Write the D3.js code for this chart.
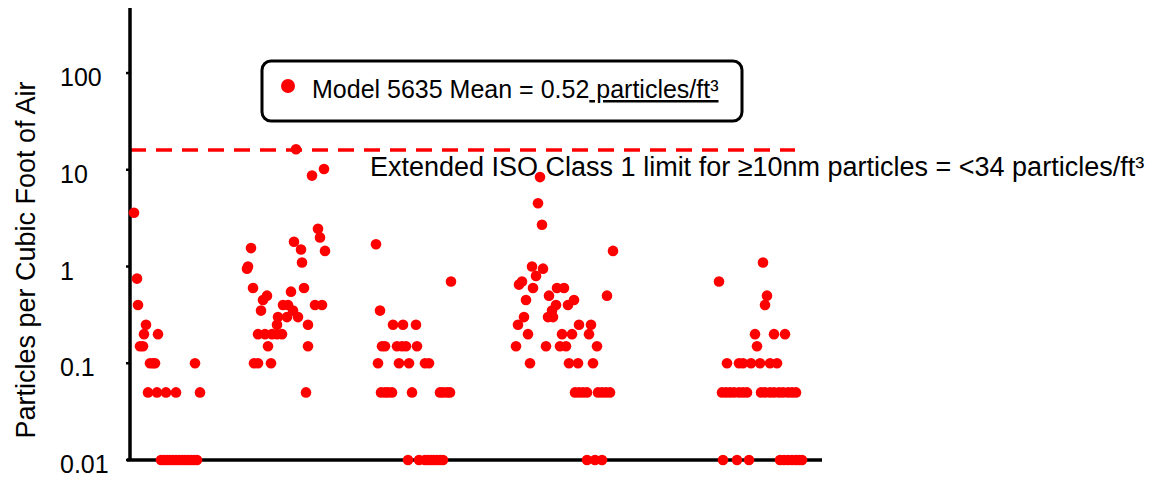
<!DOCTYPE html>
<html lang="en">
<head>
    <meta charset="utf-8">
    <title>Model 5635 particle counts</title>
    <script src="https://cdnjs.cloudflare.com/ajax/libs/d3/7.8.5/d3.min.js"></script>
    <style>
        body { margin: 0; background: #fff; }
        svg { display: block; font-family: "Liberation Sans", Arial, sans-serif; }
        .dot { fill: #ff0000; }
    </style>
</head>
<body>
    <svg width="1164" height="478"></svg>

    <script>
        // counts per ft3, one entry per sample: [sample, value]; 0 = nothing counted (drawn on the 0.01 floor)
        const run1 = [
            [4, 3.6], [7, 0.75], [8, 0.4], [16, 0.25], [14, 0.2], [28, 0.2], [10, 0.15], [13, 0.15],
            [20, 0.1], [23, 0.1], [25, 0.1], [65, 0.1],
            [18, 0.05], [27, 0.05], [36, 0.05], [46, 0.05], [70, 0.05],
            [31, 0], [34, 0], [37, 0], [40, 0], [43, 0], [46, 0], [49, 0], [52, 0], [55, 0], [58, 0], [61, 0], [64, 0], [67, 0]
        ];
        const run2 = [
            [166, 16.3], [182, 8.7], [194, 10.2], [188, 2.45], [190, 2.0], [164, 1.8], [171, 1.5], [195, 1.45],
            [121, 1.55], [172, 1.1], [118, 1.0], [117, 0.95], [123, 0.6], [174, 0.6], [161, 0.55], [137, 0.5],
            [133, 0.45], [131, 0.35], [153, 0.4], [158, 0.4], [185, 0.4], [192, 0.4], [163, 0.35], [168, 0.3],
            [148, 0.3], [157, 0.3], [147, 0.25], [178, 0.25],
            [128, 0.2], [135, 0.2], [142, 0.2], [147, 0.2], [152, 0.2], [138, 0.15], [178, 0.15],
            [124, 0.1], [128, 0.1], [141, 0.1], [176, 0.05]
        ];
        const run3 = [
            [246, 1.7], [321, 0.7], [250, 0.35], [263, 0.25], [273, 0.25], [286, 0.25],
            [252, 0.15], [255, 0.15], [267, 0.15], [272, 0.15], [276, 0.15], [287, 0.15],
            [248, 0.1], [269, 0.1], [279, 0.1], [295, 0.1], [299, 0.1],
            [251, 0.05], [255, 0.05], [258, 0.05], [262, 0.05], [282, 0.05], [310, 0.05], [313, 0.05], [317, 0.05], [320, 0.05],
            [278, 0], [289, 0], [295, 0], [298, 0], [301, 0], [304, 0], [307, 0], [310, 0], [313, 0]
        ];
        const run4 = [
            [410, 8.4], [408, 4.5], [412, 2.7], [483, 1.45], [402, 1.0], [413, 0.95], [406, 0.8], [392, 0.7],
            [389, 0.65], [403, 0.6], [427, 0.6], [434, 0.6], [477, 0.5], [419, 0.5], [396, 0.45], [444, 0.45],
            [438, 0.4], [426, 0.4], [422, 0.35], [418, 0.3], [423, 0.3], [394, 0.3], [388, 0.25], [449, 0.25],
            [461, 0.25], [398, 0.2], [432, 0.2], [442, 0.2], [459, 0.2],
            [386, 0.15], [416, 0.15], [430, 0.15], [436, 0.15], [467, 0.15],
            [400, 0.1], [439, 0.1], [448, 0.1], [463, 0.1],
            [445, 0.05], [449, 0.05], [453, 0.05], [457, 0.05], [468, 0.05], [472, 0.05], [476, 0.05], [480, 0.05],
            [457, 0], [465, 0], [472, 0]
        ];
        const run5 = [
            [633, 1.1], [589, 0.7], [637, 0.5], [635, 0.4], [625, 0.2], [644, 0.2], [655, 0.2], [627, 0.15],
            [597, 0.1], [609, 0.1], [613, 0.1], [621, 0.1], [630, 0.1], [640, 0.1], [647, 0.1],
            [592, 0.05], [596, 0.05], [600, 0.05], [604, 0.05], [609, 0.05], [613, 0.05], [617, 0.05],
            [631, 0.05], [635, 0.05], [640, 0.05], [644, 0.05], [649, 0.05], [653, 0.05], [658, 0.05], [662, 0.05], [666, 0.05],
            [593, 0], [607, 0], [619, 0], [650, 0], [654, 0], [658, 0], [662, 0], [666, 0], [669, 0], [672, 0]
        ];

        const yTicks = [0.01, 0.1, 1, 10, 100];
        const isoLimit = 16;
        const legendLabel = "Model 5635 Mean = 0.52";
        const legendUnit = " particles/ft³";
        const limitLabel = "Extended ISO Class 1 limit for ≥10nm particles = <34 particles/ft³";
        const yTitle = "Particles per Cubic Foot of Air";

        const svg = d3.select("svg");
        const floor = 0.01;

        const x = d3.scaleLinear().domain([0, 692]).range([130, 822]);
        const y = d3.scaleLog().domain([floor, 470]).range([460, 8]);

        // dashed limit line
        svg.append("line")
            .attr("x1", x(0)).attr("x2", x(665))
            .attr("y1", y(isoLimit)).attr("y2", y(isoLimit))
            .attr("stroke", "#ff0000")
            .attr("stroke-width", 3.5)
            .attr("stroke-dasharray", "16,10");

        svg.append("text")
            .attr("x", 370)
            .attr("y", y(isoLimit) + 26)
            .attr("font-size", 27)
            .attr("fill", "#000")
            .text(limitLabel);

        // axes
        svg.append("line")
            .attr("x1", x(0)).attr("x2", x(0))
            .attr("y1", y.range()[1]).attr("y2", y(floor))
            .attr("stroke", "#000").attr("stroke-width", 3.5);

        svg.append("line")
            .attr("x1", x(0) - 3).attr("x2", x(692))
            .attr("y1", y(floor)).attr("y2", y(floor))
            .attr("stroke", "#000").attr("stroke-width", 3.5);

        svg.append("g")
            .selectAll("line")
            .data(yTicks)
            .join("line")
            .attr("x1", x(0) - 4).attr("x2", x(0))
            .attr("y1", d => y(d)).attr("y2", d => y(d))
            .attr("stroke", "#000").attr("stroke-width", 2.5);

        svg.append("g")
            .selectAll("text")
            .data(yTicks)
            .join("text")
            .attr("x", 60)
            .attr("y", d => y(d))
            .attr("dy", "0.52em")
            .attr("font-size", 25)
            .text(d => d3.format("~g")(d));

        svg.append("text")
            .attr("transform", "translate(35,260) rotate(-90)")
            .attr("text-anchor", "middle")
            .attr("font-size", 27)
            .text(yTitle);

        // points
        const allRuns = [run1, run2, run3, run4, run5];
        svg.append("g")
            .selectAll("g")
            .data(allRuns)
            .join("g")
            .selectAll("circle")
            .data(d => d)
            .join("circle")
            .attr("class", "dot")
            .attr("cx", d => x(d[0]))
            .attr("cy", d => y(Math.max(d[1], floor)))
            .attr("r", 5.3);

        // legend
        const legend = svg.append("g");
        legend.append("rect")
            .attr("x", 262).attr("y", 61)
            .attr("width", 480).attr("height", 60)
            .attr("rx", 9)
            .attr("fill", "#fff")
            .attr("stroke", "#000")
            .attr("stroke-width", 3);
        legend.append("circle")
            .attr("class", "dot")
            .attr("cx", 288).attr("cy", 86)
            .attr("r", 7);
        const lt = legend.append("text")
            .attr("x", 312).attr("y", 98)
            .attr("font-size", 25)
            .attr("textLength", null);
        lt.append("tspan").text(legendLabel);
        lt.append("tspan")
            .style("text-decoration", "underline")
            .text(legendUnit);
    </script>
</body>
</html>
